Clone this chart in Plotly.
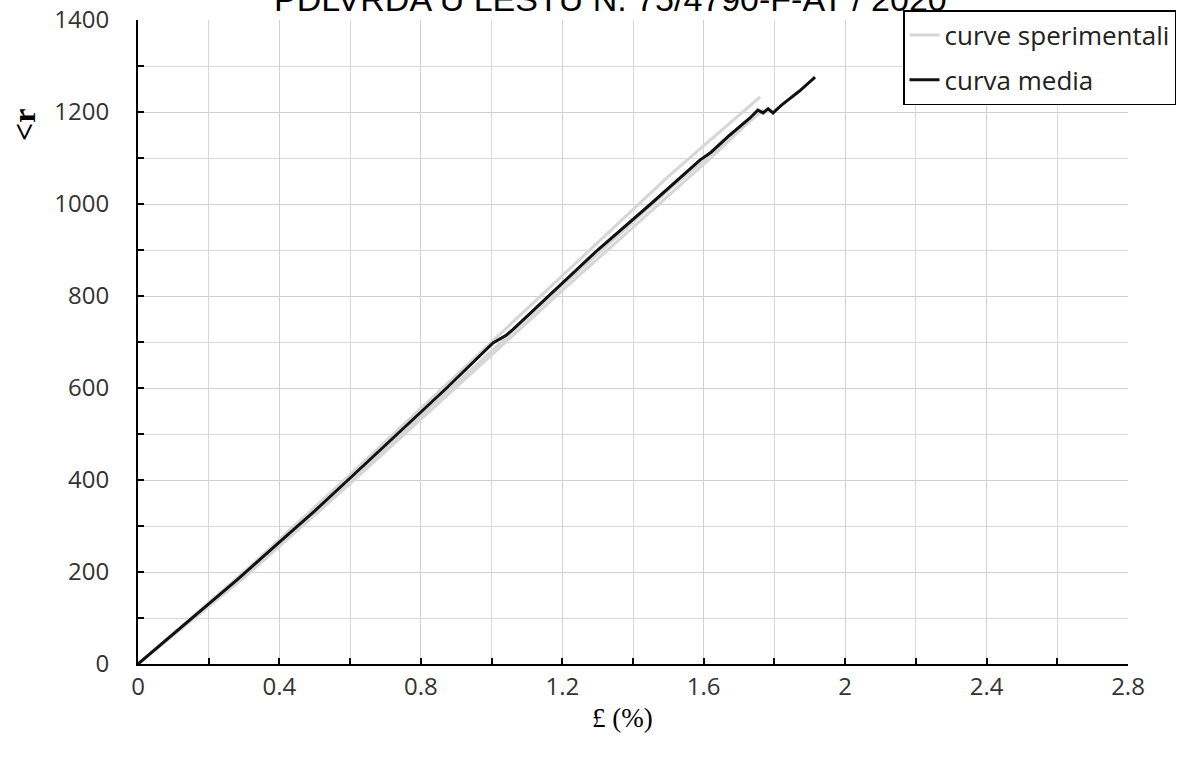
import plotly.graph_objects as go

# Mean curve (curva media)
eps_media = [0, 0.1, 0.2, 0.28, 0.4, 0.5, 0.594, 0.735, 0.873, 1.004, 1.04, 1.06, 1.16, 1.30,
             1.45, 1.533, 1.59, 1.62, 1.64, 1.674, 1.731, 1.753, 1.768, 1.782, 1.796, 1.82, 1.87, 1.915]
sig_media = [0, 66, 131, 183, 265, 333, 400, 500, 600, 698, 714, 727, 800, 900,
             1000, 1057, 1096, 1112, 1126, 1150, 1187, 1204, 1198, 1207, 1198, 1215, 1245, 1276]

# Experimental curves (curve sperimentali)
eps_sp1 = [0, 0.3, 0.6, 0.9, 1.2, 1.5, 1.65, 1.76]
sig_sp1 = [0, 200, 412, 628, 846, 1060, 1160, 1233]
eps_sp2 = [0, 0.3, 0.6, 0.9, 1.2, 1.5, 1.65, 1.77]
sig_sp2 = [0, 192, 398, 610, 822, 1030, 1128, 1205]
eps_sp3 = [0, 0.3, 0.6, 0.9, 1.2, 1.5, 1.62, 1.73]
sig_sp3 = [0, 188, 392, 602, 812, 1018, 1100, 1180]

x_ticks = [0, 0.4, 0.8, 1.2, 1.6, 2, 2.4, 2.8]
y_ticks = [0, 200, 400, 600, 800, 1000, 1200, 1400]

title_text = "PDLVRDA U LESTU N. 75/4790-F-AT / 2020"
x_title = "£ (%)"
y_title = "<r"

fig = go.Figure()
grey = "#d6d6d6"
for i, (ex, sy) in enumerate([(eps_sp1, sig_sp1), (eps_sp2, sig_sp2), (eps_sp3, sig_sp3)]):
    fig.add_trace(go.Scatter(x=ex, y=sy, mode="lines", name="curve sperimentali",
                             line=dict(color=grey, width=3), legendgroup="sp",
                             showlegend=(i == 0)))
fig.add_trace(go.Scatter(x=eps_media, y=sig_media, mode="lines", name="curva media",
                         legendgroup="media",
                         line=dict(color="#111111", width=3)))

tickfont = dict(family="Open Sans", size=24, color="#333333")
fig.update_layout(
    width=1179, height=760,
    margin=dict(l=138, r=51, t=20, b=96, autoexpand=False),
    paper_bgcolor="white", plot_bgcolor="white",
    showlegend=True,
    legend=dict(x=(903 - 138) / 990, y=(664 - 10) / 644, xanchor="left", yanchor="top",
                bgcolor="white", bordercolor="black", borderwidth=1.5,
                font=dict(family="Open Sans", size=26, color="#222222"),
                tracegroupgap=8, itemwidth=30),
    xaxis=dict(range=[0, 2.8], tickvals=x_ticks, ticktext=[str(v) for v in x_ticks],
               showline=True, linecolor="black", linewidth=2, mirror=False,
               ticks="inside", ticklen=6, tickcolor="black", tickwidth=1.5,
               showgrid=True, gridcolor="#d0d0d0", gridwidth=1, zeroline=False,
               tickfont=tickfont, automargin=False,
               minor=dict(dtick=0.2, tick0=0, showgrid=True, gridcolor="#d8d8d8",
                          ticks="inside", ticklen=6, tickcolor="black")),
    yaxis=dict(range=[0, 1400], tickvals=y_ticks,
               showline=True, linecolor="black", linewidth=2,
               ticks="inside", ticklen=6, tickcolor="black", tickwidth=1.5,
               showgrid=True, gridcolor="#d0d0d0", gridwidth=1, zeroline=False,
               tickfont=tickfont, ticklabelstandoff=22, automargin=False,
               minor=dict(dtick=100, tick0=0, showgrid=True, gridcolor="#d8d8d8",
                          ticks="inside", ticklen=6, tickcolor="black")),
    annotations=[
        dict(text=title_text, xref="paper", yref="paper", x=(610 - 138) / 990,
             y=(664 - 20) / 644, xanchor="center", yanchor="bottom", showarrow=False,
             font=dict(family="Liberation Sans", size=34, color="black")),
        dict(text=x_title, xref="paper", yref="paper", x=(622 - 138) / 990,
             y=(664 - 718) / 644, xanchor="center", yanchor="middle", showarrow=False,
             font=dict(family="Liberation Serif", size=27, color="black")),
        dict(text="<b>" + y_title.replace("<", "&lt;") + "</b>", xref="paper", yref="paper",
             x=(24 - 138) / 990, y=(664 - 125) / 644, xanchor="center", yanchor="middle",
             textangle=-90, showarrow=False,
             font=dict(family="Liberation Serif", size=32, color="black")),
    ],
)

fig.write_html("out.html", config={"displayModeBar": False},
               post_script="document.body.style.margin='0';document.body.style.overflow='hidden';")
